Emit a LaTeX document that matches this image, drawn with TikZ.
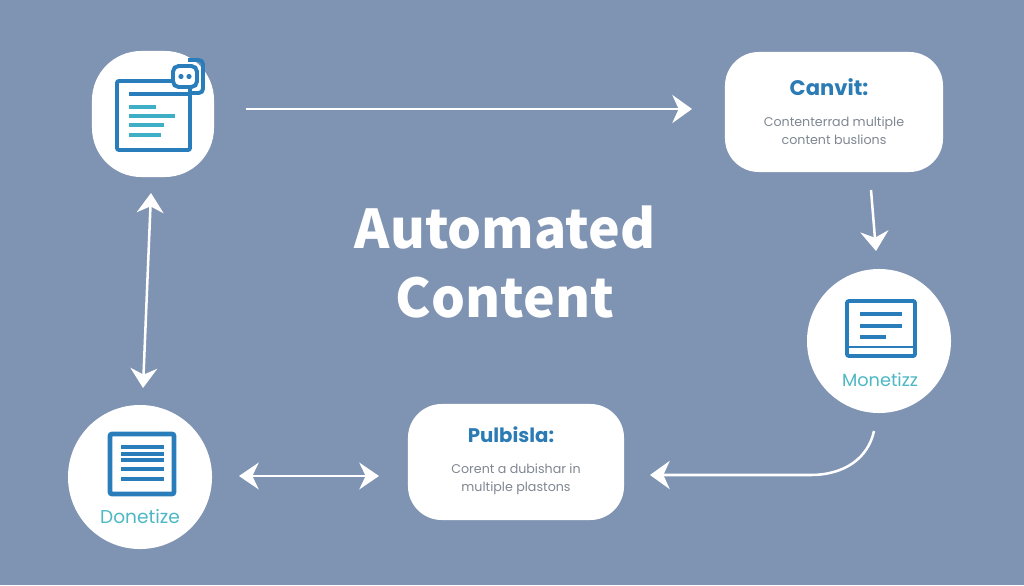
\documentclass[tikz,border=0pt]{standalone}
\usepackage{fontspec}
\setmainfont{Poppins}
\newfontfamily\titlefont{Noto Sans CJK SC}
\usepackage{tikz}
\usetikzlibrary{positioning, arrows.meta, calc}
\definecolor{bgblue}{HTML}{7F93B2}
\definecolor{iconblue}{HTML}{2A7DBB}
\definecolor{tealline}{HTML}{3FAFC8}
\definecolor{tealtext}{HTML}{4DB8C4}
\definecolor{headblue}{HTML}{2B7BB5}
\definecolor{bodygrey}{HTML}{7F8791}
\tikzset{
    flow/.style={draw=white, line width=1.8pt, -{Stealth[length=14pt,width=20pt,inset=4.5pt]}},
    flowboth/.style={flow, {Stealth[length=14pt,width=19pt,inset=4.5pt]}-{Stealth[length=14pt,width=19pt,inset=4.5pt]}},
    card/.style={fill=white, rounded corners=24pt, minimum width=5.45cm, minimum height=3cm},
    disc/.style={circle, fill=white, minimum size=3.6cm, inner sep=0pt},
    heading/.style={text=headblue, font=\fontsize{15}{18}\selectfont\bfseries},
    body/.style={text=bodygrey, font=\fontsize{9}{12.5}\selectfont, align=center},
    tag/.style={text=tealtext, font=\fontsize{12.6}{15}\selectfont},
    title/.style={text=white, font=\titlefont\fontsize{38}{49}\selectfont\bfseries, align=center},
    frameline/.style={draw=iconblue, line width=2.8pt, rounded corners=1.5pt},
    textline/.style={draw=iconblue, line width=2.2pt},
    tealrow/.style={draw=tealline, line width=2.3pt},
}
\begin{document}
\begin{tikzpicture}[x=0.025cm, y=-0.025cm]
    \fill[bgblue] (0,0) rectangle (1024,585);
    \useasboundingbox (0,0) rectangle (1024,585);
    % cards and discs
    \node[fill=white, rounded corners=35pt, minimum width=3.05cm, minimum height=3.15cm] (editor) at (153,114) {};
    \node[card] (canvit) at (834,112) {};
    \node[disc] (monetizz) at (879,341) {};
    \node[disc] (donetize) at (140,477) {};
    \node[card, minimum width=5.4cm, minimum height=2.9cm] (publish) at (516,462) {};
    % title
    \node[title] (heading) at (505,262) {Automated\\Content};
    % card texts
    \node[heading] (canvithead) at (829,87) {Canvit:};
    \node[body] (canvitbody) at (834,131) {Contenterrad multiple\\content buslions};
    \node[heading, font=\fontsize{14}{17}\selectfont\bfseries] (publishhead) at (511,435) {Pulbisla:};
    \node[body] (publishbody) at (516,479.5) {Corent a dubishar in\\multiple plastons};
    \node[tag] (monetizztag) at (880,380) {Monetizz};
    \node[tag, font=\fontsize{13.2}{15}\selectfont] (donetizetag) at (140,517) {Donetize};
    % editor icon
    \draw[frameline] (117,81) rectangle (190,150);
    \draw[textline] (129,94) -- (190,94);
    \draw[tealrow] (129,107) -- (156,107);
    \draw[tealrow] (129,116) -- (175,116);
    \draw[tealrow] (129,125) -- (164,125);
    \draw[tealrow] (129,135) -- (161,135);
    \draw[frameline, rounded corners=3pt] (188,60) -- (203,60) -- (203,93) -- (190,93);
    \draw[frameline, fill=white, rounded corners=4pt] (173,66) rectangle (197,87);
    \fill[iconblue] (181,76.5) circle (2.6);
    \fill[iconblue] (189,76.5) circle (2.6);
    % monetizz icon
    \draw[frameline] (847,301) rectangle (915,356);
    \draw[frameline, line width=2pt] (847,347) -- (915,347);
    \draw[textline] (860,314) -- (902,314);
    \draw[textline] (860,326) -- (902,326);
    \draw[textline] (860,337) -- (886,337);
    % donetize icon
    \draw[frameline, line width=3.4pt] (110,434) rectangle (174,494);
    \foreach \rowy in {447,454,460,469,479}
        \draw[textline] (121,\rowy) -- (164,\rowy);
    % connectors
    \coordinate (topstart) at (246,109);
    \coordinate (topend) at (692,109);
    \coordinate (rightstart) at (871,190);
    \coordinate (rightend) at (876,251);
    \coordinate (curvestart) at (874,431);
    \coordinate (curveend) at (650,475);
    \coordinate (leftstart) at (151,193);
    \coordinate (leftend) at (143,388);
    \coordinate (lowstart) at (239,476);
    \coordinate (lowend) at (379,476);
    \draw[flow] (topstart)--(topend);
    \draw[flow] (rightstart)--(rightend);
    \draw[flow] (curvestart) .. controls (868,458) and (845,475) .. (810,475) -- (curveend);
    \draw[flowboth] (leftstart)--(leftend);
    \draw[flowboth] (lowstart)--(lowend);
\end{tikzpicture}
\end{document}
